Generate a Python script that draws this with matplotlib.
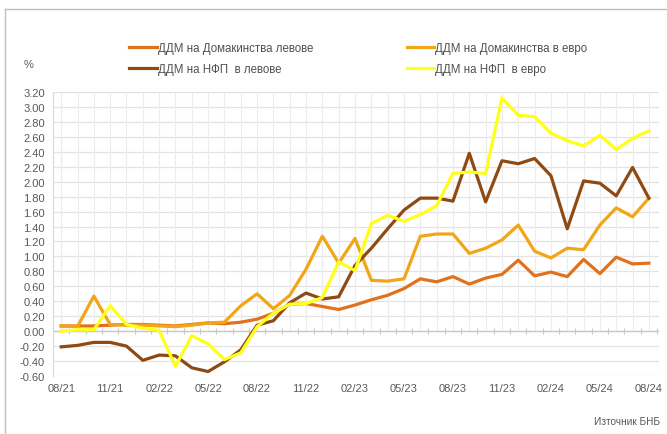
import numpy as np
import matplotlib
import matplotlib.pyplot as plt
from matplotlib.lines import Line2D

matplotlib.use("Agg")
plt.rcParams['font.family'] = ['Liberation Sans', 'DejaVu Sans']

months = ['08/21', '09/21', '10/21', '11/21', '12/21', '01/22', '02/22', '03/22', '04/22',
          '05/22', '06/22', '07/22', '08/22', '09/22', '10/22', '11/22', '12/22', '01/23',
          '02/23', '03/23', '04/23', '05/23', '06/23', '07/23', '08/23', '09/23', '10/23',
          '11/23', '12/23', '01/24', '02/24', '03/24', '04/24', '05/24', '06/24', '07/24',
          '08/24']

# ДДМ на Домакинства левове
hh_bgn = [0.07, 0.07, 0.07, 0.08, 0.09, 0.09, 0.08, 0.07, 0.09, 0.11,
          0.10, 0.12, 0.16, 0.24, 0.36, 0.37, 0.33,
          0.29, 0.35, 0.42, 0.48, 0.57, 0.70, 0.66, 0.73, 0.63, 0.71,
          0.76, 0.95, 0.74, 0.79, 0.73, 0.96, 0.77, 0.99, 0.90, 0.91]
# ДДМ на Домакинства в евро
hh_eur = [0.07, 0.06, 0.47, 0.09, 0.08, 0.08, 0.07, 0.06, 0.08, 0.11,
          0.12, 0.34, 0.50, 0.30, 0.48, 0.83, 1.27,
          0.91, 1.24, 0.68, 0.67, 0.70, 1.27, 1.30, 1.30, 1.04,
          1.11, 1.22, 1.42, 1.07, 0.98, 1.11, 1.09, 1.42, 1.65, 1.53, 1.78]
# ДДМ на НФП в левове
nfc_bgn = [-0.21, -0.19, -0.15, -0.15, -0.20, -0.39, -0.32, -0.33, -0.49, -0.54,
           -0.41, -0.25, 0.08, 0.14, 0.38, 0.51, 0.43,
           0.46, 0.88, 1.11, 1.37, 1.62, 1.78, 1.78, 1.74, 2.38,
           1.73, 2.28, 2.24, 2.31, 2.08, 1.37, 2.01, 1.98, 1.81, 2.19, 1.78]
# ДДМ на НФП в евро
nfc_eur = [0.00, 0.02, 0.02, 0.34, 0.09, 0.04, 0.01, -0.47, -0.06, -0.17,
           -0.38, -0.29, 0.06, 0.24, 0.36, 0.37, 0.45,
           0.93, 0.81, 1.44, 1.55, 1.47, 1.56, 1.68, 2.11, 2.13,
           2.11, 3.12, 2.89, 2.87, 2.65, 2.55, 2.48, 2.62, 2.43, 2.58, 2.68]

labels = ['ДДМ на Домакинства левове', 'ДДМ на Домакинства в евро',
          'ДДМ на НФП  в левове', 'ДДМ на НФП  в евро']
colors = ['#E2711D', '#F2A516', '#8E4A12', '#FFFF1A']


def main():
    fig = plt.figure(figsize=(6.67, 4.35), dpi=100)
    ax = fig.add_axes([0.0795, 0.1333, 0.908, 0.6529])
    x = np.arange(len(months))

    # сетка
    for v in np.arange(-0.6, 3.21, 0.2):
        ax.axhline(v, color='#E3E3E3', lw=0.9, zorder=0)
    ax.vlines(x, 0, 3.2, color='#ECECEC', lw=0.8, zorder=0)
    ax.axhline(0, color='#C8C8C8', lw=1.0, zorder=1)
    ax.vlines(np.arange(-0.5, len(months)), -0.04, 0.04, color='#C8C8C8', lw=0.8, zorder=1)

    lines = []
    for data, lab, col in zip([hh_bgn, hh_eur, nfc_bgn, nfc_eur], labels, colors):
        ln, = ax.plot(x, data, color=col, lw=2.3, label=lab, zorder=3)
        lines.append(ln)

    ax.set_xlim(-0.5, 36.6)
    ax.set_ylim(-0.6, 3.2)
    ax.set_yticks(np.arange(-0.6, 3.21, 0.2))
    ax.set_yticklabels([f'{v:.2f}' for v in np.arange(-0.6, 3.21, 0.2)])
    ax.set_xticks(x[::3])
    ax.set_xticklabels(months[::3])
    ax.tick_params(length=0, labelsize=8, labelcolor='#595959', pad=6)
    ax.tick_params(axis='x', pad=5)
    for s in ax.spines.values():
        s.set_visible(False)
    ax.spines['left'].set_visible(True)
    ax.spines['left'].set_color('#D9D9D9')

    order = [0, 2, 1, 3]
    fig.legend([lines[i] for i in order], [labels[i] for i in order], ncol=2,
               loc='upper left', bbox_to_anchor=(0.178, 0.925), frameon=False,
               fontsize=8.3, handlelength=2.4, handletextpad=0.1, columnspacing=8.1,
               labelspacing=0.75, labelcolor='#505050')

    fig.text(0.043, 0.85, '%', fontsize=8, color='#595959', ha='center', va='center')
    fig.text(0.99, 0.03, 'Източник БНБ', fontsize=7.2, color='#595959', ha='right', va='center')

    # рамка
    fig.add_artist(Line2D([0.008, 1.0], [0.977, 0.977], color='#BFBFBF', lw=1.0))
    fig.add_artist(Line2D([0.008, 0.008], [0.0, 0.977], color='#BFBFBF', lw=1.0))

    fig.savefig('out.png', dpi=100)


if __name__ == '__main__':
    main()
